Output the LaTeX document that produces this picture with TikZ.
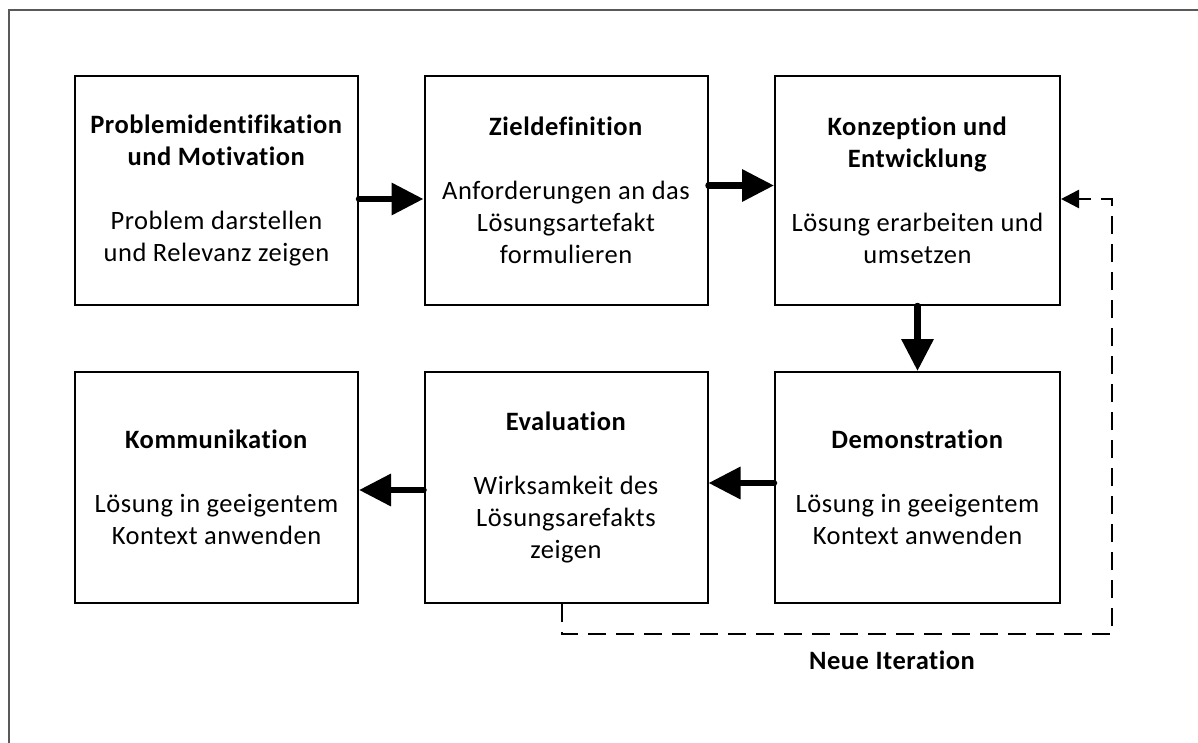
\documentclass[tikz,border=0pt]{standalone}
\usepackage{fontspec}
\setmainfont[Ligatures=CommonOff, LetterSpace=2]{Carlito}
\usetikzlibrary{arrows.meta}
\begin{document}
\begin{tikzpicture}[x=1pt,y=-1pt,
  phase/.style={draw=black, line width=2pt, minimum width=283pt, inner sep=0pt,
    align=center, font=\fontsize{26.5}{32}\selectfont},
  toprow/.style={phase, minimum height=229pt},
  botrow/.style={phase, minimum height=231pt},
  flow/.style={line width=6.5pt, line cap=round, -{Triangle[length=32pt,width=31pt]}},
  loopback/.style={line width=2.5pt, dash pattern=on 18pt off 10pt, -{Triangle[length=18pt,width=18pt]}},
  frameline/.style={draw=black!65, line width=1.5pt},
  caption/.style={font=\fontsize{26.5}{32}\selectfont\bfseries, inner sep=0pt}]
  \useasboundingbox (0,0) rectangle (1198,743);
  % page frame
  \draw[frameline] (9,743) -- (9,10) -- (1198,10);

  % upper row of phases
  \node[toprow] (p1) at (216.5,190.5) {\textbf{Problemidentifikation}\\\textbf{und Motivation}\\[32pt]Problem darstellen\\und Relevanz zeigen};
  \node[toprow] (p2) at (566,190.5) {\textbf{Zieldefinition}\\[32pt]Anforderungen an das\\Lösungsartefakt\\formulieren};
  \node[toprow, minimum width=285pt] (p3) at (917.5,190.5) {\textbf{Konzeption und}\\\textbf{Entwicklung}\\[32pt]Lösung erarbeiten und\\umsetzen};

  % lower row of phases
  \node[botrow] (p6) at (216.5,487.5) {\textbf{Kommunikation}\\[32pt]Lösung in geeigentem\\Kontext anwenden};
  \node[botrow] (p5) at (566,487.5) {\textbf{Evaluation}\\[32pt]Wirksamkeit des\\Lösungsarefakts\\zeigen};
  \node[botrow, minimum width=285pt] (p4) at (917.5,487.5) {\textbf{Demonstration}\\[32pt]Lösung in geeigentem\\Kontext anwenden};

  % process flow
  \draw[flow] ([yshift=-8.5pt]p1.east) -- ([yshift=-8.5pt]p2.west);
  \draw[flow] ([yshift=5pt]p2.east) -- ([yshift=5pt]p3.west);
  \draw[flow] (p3.south) -- (p4.north);
  \draw[flow] ([yshift=4.5pt]p4.west) -- ([yshift=4.5pt]p5.east);
  \draw[flow] ([yshift=-2.5pt]p5.west) -- ([yshift=-2.5pt]p6.east);

  % iteration loop back to design
  \coordinate (l1) at (562,634);
  \coordinate (l2) at (1112,634);
  \coordinate (l3) at (1112,199);
  \draw[loopback] (p5.south -| l1) -- (l1) -- (l2) -- (l3) -- (l3 -| p3.east);
  \node[caption] (iter) at (892,660) {Neue Iteration};
\end{tikzpicture}
\end{document}
